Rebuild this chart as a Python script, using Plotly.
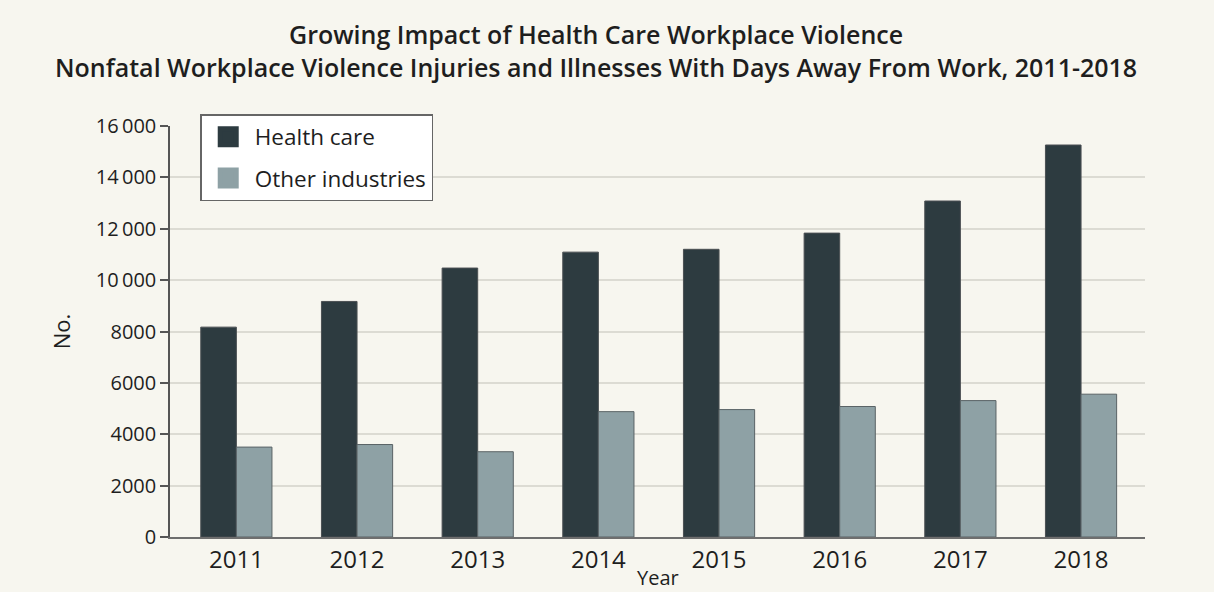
import plotly.graph_objects as go

years = ["2011", "2012", "2013", "2014", "2015", "2016", "2017", "2018"]
health_care = [8170, 9170, 10470, 11090, 11200, 11830, 13080, 15260]
other_industries = [3500, 3600, 3320, 4880, 4960, 5080, 5310, 5560]
y_tickvals = [0, 2000, 4000, 6000, 8000, 10000, 12000, 14000, 16000]
y_ticktext = ["0", "2000", "4000", "6000", "8000", "10\u2009000", "12\u2009000", "14\u2009000", "16\u2009000"]

FONT = "Open Sans"
BG = "#f7f6ef"
HC_COLOR = "#2d3b40"
OI_COLOR = "#8ea1a5"
TXT = "#1e1e1e"

fig = go.Figure()
fig.add_trace(go.Bar(
    x=years, y=health_care, name="Health care", showlegend=False,
    marker=dict(color=HC_COLOR, line=dict(color="#4a4f52", width=1)),
))
fig.add_trace(go.Bar(
    x=years, y=other_industries, name="Other industries", showlegend=False,
    marker=dict(color=OI_COLOR, line=dict(color="#5a6366", width=1)),
))
# legend entries with larger square swatches
fig.add_trace(go.Scatter(
    x=[None], y=[None], mode="markers", name="Health care", legendgroup="hc",
    marker=dict(symbol="square", size=16, color=HC_COLOR, line=dict(color=HC_COLOR, width=5)),
))
fig.add_trace(go.Scatter(
    x=[None], y=[None], mode="markers", name="Other industries", legendgroup="oi",
    marker=dict(symbol="square", size=16, color=OI_COLOR, line=dict(color=OI_COLOR, width=5)),
))

fig.update_layout(
    width=1214, height=592,
    paper_bgcolor=BG, plot_bgcolor=BG,
    font=dict(family=FONT, color="#222222", size=20),
    margin=dict(l=170, r=69, t=126, b=55, autoexpand=False),
    barmode="group", bargap=0.41, bargroupgap=0,
    title=dict(
        text="Growing Impact of Health Care Workplace Violence<br>Nonfatal Workplace Violence Injuries and Illnesses With Days Away From Work, 2011-2018",
        x=0.491, xanchor="center", xref="container",
        y=0.925, yanchor="top", yref="container",
        font=dict(family=FONT, size=25, color=TXT, weight=600),
    ),
    legend=dict(
        x=0.031, y=1.029, xanchor="left", yanchor="top",
        bgcolor="#ffffff", bordercolor="#666666", borderwidth=1.5,
        font=dict(family=FONT, size=22.5, color=TXT),
        itemwidth=43, tracegroupgap=9, traceorder="grouped",
    ),
    showlegend=True,
    annotations=[dict(
        text="Year", xref="paper", yref="paper", x=0.5, y=-0.098,
        xanchor="center", yanchor="middle", showarrow=False,
        font=dict(family=FONT, size=20, color=TXT),
    )],
)
fig.update_xaxes(
    type="category", range=[-0.55, 7.53], automargin=False,
    showline=True, linecolor="#6e6e6e", linewidth=1.5,
    ticks="", showgrid=False, zeroline=False,
    tickfont=dict(family=FONT, size=24, color=TXT),
)
fig.update_yaxes(
    range=[0, 16000], tickvals=y_tickvals, ticktext=y_ticktext, automargin=False,
    showline=True, linecolor="#555555", linewidth=1.5,
    ticks="outside", ticklen=8, tickcolor="#555555", tickwidth=1.5,
    showgrid=True, gridcolor="#dcdbd3", gridwidth=1.5,
    zeroline=False,
    tickfont=dict(family=FONT, size=20, color=TXT),
    title=dict(text="No.", font=dict(family=FONT, size=22, color=TXT), standoff=19),
)

fig.write_html(
    "out.html",
    config={"displayModeBar": False},
    post_script="document.body.style.margin='0';document.body.style.overflow='hidden';",
)
